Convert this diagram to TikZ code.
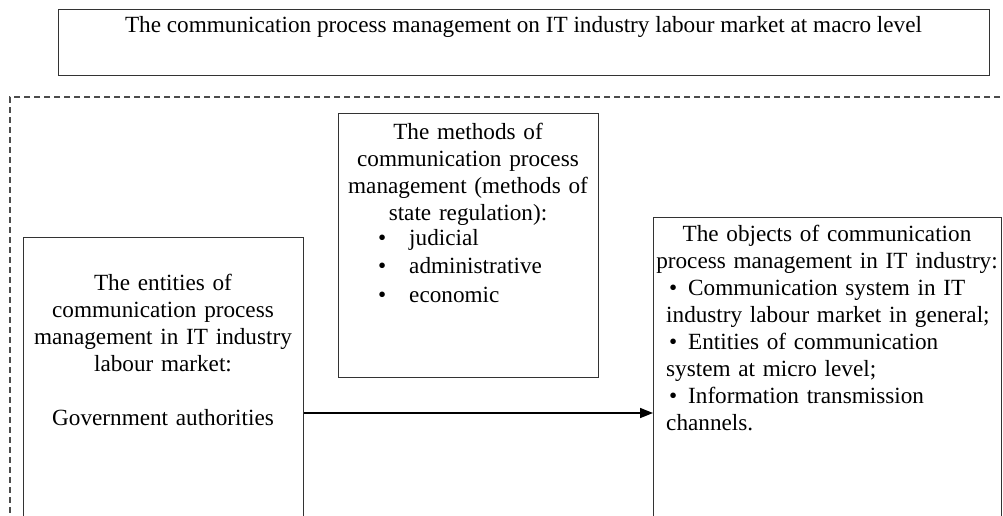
\documentclass[tikz,border=0pt]{standalone}
\usepackage{fontspec}
\setmainfont{Liberation Serif}
\usetikzlibrary{arrows.meta}
\begin{document}
\begin{tikzpicture}[x=1pt,y=-1pt,
  boxline/.style={draw=black!80, line width=1.4pt, inner sep=0pt, anchor=north west},
  frame/.style={draw=black!70, line width=1.1pt, dash pattern=on 6pt off 4pt},
  txt/.style={font=\fontsize{23.2}{27}\selectfont, inner sep=0pt},
  arr/.style={draw=black, line width=1.6pt, -{Triangle[length=13pt,width=10pt]}},
]
\useasboundingbox (0,0) rectangle (1003,515);
\clip (0,0) rectangle (1003,515);
% dashed frame
\coordinate (fa) at (1020,97);
\coordinate (fb) at (10,97);
\coordinate (fc) at (10,540);
\draw[frame] (fa) -- (fb) -- (fc);
% boxes
\node[boxline, minimum width=931pt, minimum height=66pt] (topbox) at (58,9) {};
\node[boxline, minimum width=280pt, minimum height=330pt] (lbox) at (23,237) {};
\node[boxline, minimum width=260pt, minimum height=264pt] (mbox) at (338,113) {};
\node[boxline, minimum width=348pt, minimum height=350pt] (rbox) at (653,217) {};
% texts
\node[txt, anchor=base] (ttop) at (523.5,32) {The communication process management on IT industry labour market at macro level};
\node[txt, anchor=base, text width=280pt, align=center] (tleft) at (163,290)
  {The entities of\\communication process\\management in IT industry\\labour market:\\[27pt]Government authorities};
\node[txt, anchor=base, text width=260pt, align=center] (tmid) at (468,139)
  {The methods of\\communication process\\management (methods of\\state regulation):};
\node[txt, anchor=base west, text width=210pt, align=left, font=\fontsize{23.2}{28.5}\selectfont] (tmidlist) at (378,245)
  {\makebox[31pt][l]{•}judicial\\\makebox[31pt][l]{•}administrative\\\makebox[31pt][l]{•}economic};
\node[txt, anchor=base, text width=345pt, align=center] (trhead) at (827,241)
  {The objects of communication\\process management in IT industry:};
\node[txt, anchor=base west, text width=334pt, align=left] (trlist) at (666,295)
  {\hspace*{3pt}\makebox[19pt][l]{•}Communication system in IT\\industry labour market in general;\\\hspace*{3pt}\makebox[19pt][l]{•}Entities of communication\\system at micro level;\\\hspace*{3pt}\makebox[19pt][l]{•}Information transmission\\channels.};
% arrow
\coordinate (ay) at (0,413);
\draw[arr] (lbox.east |- ay) -- (rbox.west |- ay);
\end{tikzpicture}
\end{document}
